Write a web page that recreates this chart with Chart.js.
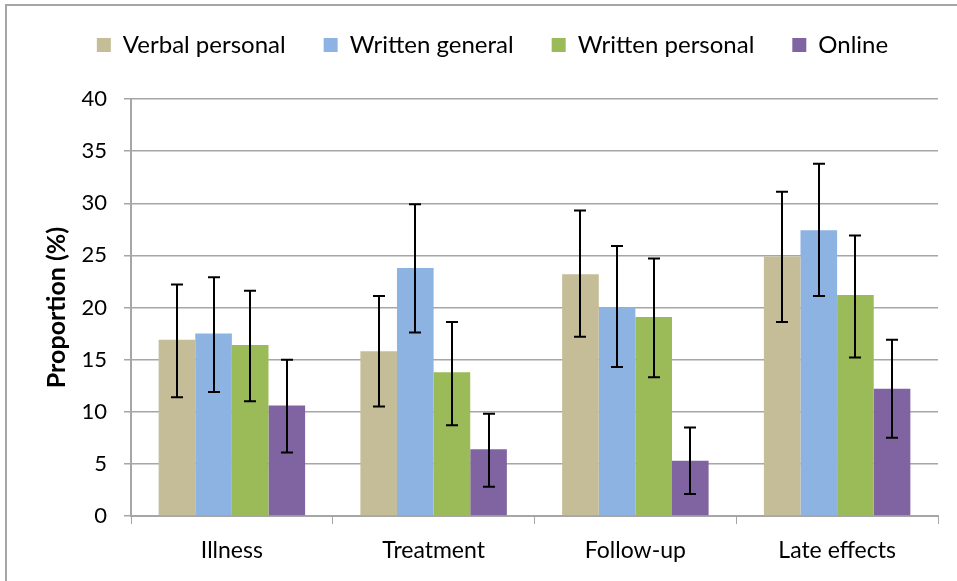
<!DOCTYPE html>
<html>
<head>
<meta charset="utf-8">
<script src="https://cdn.jsdelivr.net/npm/chart.js@4"></script>
<style>
  html, body { margin: 0; padding: 0; background: #fff; }
  canvas { display: block; }
</style>
</head>
<body>
<canvas id="chart" width="957" height="581"></canvas>
<script>
// data
var categories = ['Illness', 'Treatment', 'Follow-up', 'Late effects'];
var seriesNames = ['Verbal personal', 'Written general', 'Written personal', 'Online'];
var seriesColors = ['#C4BD97', '#8DB3E2', '#9BBB59', '#8064A2'];

var verbalPersonal = [16.9, 15.8, 23.2, 24.9];
var writtenGeneral = [17.5, 23.8, 20.0, 27.4];
var writtenPersonal = [16.4, 13.8, 19.1, 21.2];
var online = [10.6, 6.4, 5.3, 12.2];

// error bar ends (lower / upper)
var verbalPersonalLow = [11.4, 10.5, 17.2, 18.6];
var verbalPersonalHigh = [22.2, 21.1, 29.3, 31.1];
var writtenGeneralLow = [11.9, 17.6, 14.3, 21.1];
var writtenGeneralHigh = [22.9, 29.9, 25.9, 33.8];
var writtenPersonalLow = [11.0, 8.7, 13.3, 15.2];
var writtenPersonalHigh = [21.6, 18.6, 24.7, 26.9];
var onlineLow = [6.1, 2.8, 2.1, 7.5];
var onlineHigh = [15.0, 9.8, 8.5, 16.9];

var yTicks = [0, 5, 10, 15, 20, 25, 30, 35, 40];

var values = [verbalPersonal, writtenGeneral, writtenPersonal, online];
var lows = [verbalPersonalLow, writtenGeneralLow, writtenPersonalLow, onlineLow];
var highs = [verbalPersonalHigh, writtenGeneralHigh, writtenPersonalHigh, onlineHigh];

var gridColor = '#A6A6A6';
Chart.defaults.font.family = 'Lato, "Noto Sans", sans-serif';
Chart.defaults.color = '#000';

var datasets = [];
for (var i = 0; i < seriesNames.length; i++) {
    datasets.push({
        label: seriesNames[i],
        data: values[i],
        backgroundColor: seriesColors[i],
        borderWidth: 0,
        low: lows[i],
        high: highs[i]
    });
}

// draws the whiskers using the y scale
var errorBars = {
    id: 'errorBars',
    afterDatasetsDraw: function (chart) {
        var ctx = chart.ctx;
        var y = chart.scales.y;
        ctx.save();
        ctx.strokeStyle = '#000';
        ctx.lineWidth = 2;
        chart.data.datasets.forEach(function (ds, i) {
            var meta = chart.getDatasetMeta(i);
            meta.data.forEach(function (bar, j) {
                var x = Math.round(bar.x);
                var yl = y.getPixelForValue(ds.low[j]);
                var yh = y.getPixelForValue(ds.high[j]);
                ctx.beginPath();
                ctx.moveTo(x, yl);
                ctx.lineTo(x, yh);
                ctx.moveTo(x - 6, yl);
                ctx.lineTo(x + 6, yl);
                ctx.moveTo(x - 6, yh);
                ctx.lineTo(x + 6, yh);
                ctx.stroke();
            });
        });
        ctx.restore();
    }
};

// outer frame (only top and left edges are in the picture)
var frame = {
    id: 'frame',
    beforeDraw: function (chart) {
        var ctx = chart.ctx;
        ctx.save();
        ctx.strokeStyle = '#A6A6A6';
        ctx.lineWidth = 2;
        ctx.beginPath();
        ctx.moveTo(6, chart.height);
        ctx.lineTo(6, 5);
        ctx.lineTo(chart.width, 5);
        ctx.stroke();
        ctx.restore();
    }
};

var legendBox = {
    id: 'legendBox',
    beforeInit: function (chart) {
        var fit = chart.legend.fit;
        chart.legend.fit = function () {
            fit.bind(chart.legend)();
            this.height = 104;
        };
    },
    afterLayout: function (chart) {
        // legend sits centred over the plot area, not the whole canvas
        chart.legend.left += 23.5;
        chart.legend.right += 23.5;
    }
};

new Chart(document.getElementById('chart'), {
    type: 'bar',
    data: {
        labels: categories,
        datasets: datasets
    },
    options: {
        responsive: false,
        animation: false,
        layout: { padding: { top: -5, right: 19, bottom: 0, left: 0 } },
        datasets: {
            bar: { categoryPercentage: 0.726, barPercentage: 1.0 }
        },
        plugins: {
            legend: {
                position: 'top',
                labels: {
                    boxWidth: 14,
                    boxHeight: 14,
                    padding: 38,
                    font: { size: 24 }
                }
            },
            tooltip: { enabled: false }
        },
        scales: {
            x: {
                grid: {
                    drawOnChartArea: false,
                    drawTicks: true,
                    tickLength: 8,
                    color: gridColor,
                    offset: true
                },
                border: { display: true, color: gridColor, width: 2 },
                ticks: { font: { size: 23 }, padding: 13 },
                afterFit: function (scale) { scale.height = 65; }
            },
            y: {
                min: 0,
                max: 40,
                afterBuildTicks: function (scale) {
                    scale.ticks = yTicks.map(function (v) { return { value: v }; });
                },
                grid: {
                    color: gridColor,
                    lineWidth: 1.5,
                    tickLength: 7
                },
                border: { display: true, color: gridColor, width: 2 },
                ticks: { font: { size: 22 }, padding: 17 },
                title: {
                    display: true,
                    text: 'Proportion (%)',
                    font: { size: 25, weight: 'bold' },
                    padding: { top: 42, bottom: 0 }
                },
                afterFit: function (scale) { scale.width = 131; }
            }
        }
    },
    plugins: [errorBars, frame, legendBox]
});
</script>
</body>
</html>
